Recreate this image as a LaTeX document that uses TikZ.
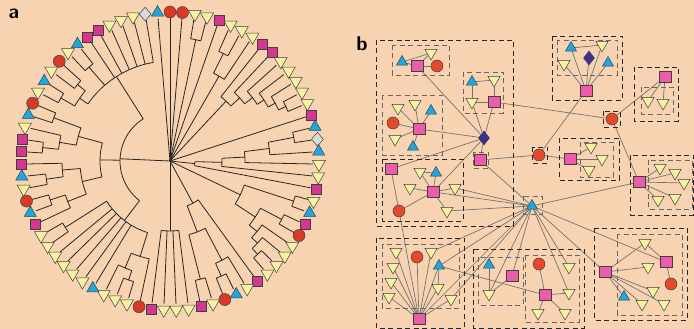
\documentclass[tikz,border=0pt]{standalone}
\usepackage{tikz}
\usetikzlibrary{shapes.geometric}
\usetikzlibrary{positioning}
\definecolor{paper}{HTML}{F8D3B1}
\definecolor{triyellow}{HTML}{F6F1A3}
\definecolor{triblue}{HTML}{1BA8E0}
\definecolor{dotred}{HTML}{D93A27}
\definecolor{nodered}{HTML}{E4492B}
\definecolor{sqmagenta}{HTML}{D6368F}
\definecolor{sqpink}{HTML}{EC5CA8}
\definecolor{dmgray}{HTML}{D9DADC}
\definecolor{dmblue}{HTML}{3C2F8F}
\pgfdeclarelayer{back}
\pgfdeclarelayer{wires}
\pgfsetlayers{back,wires,main}
\tikzstyle{mk}=[draw=black!75, line width=.5pt, inner sep=0pt]
\tikzstyle{mkY}=[mk, regular polygon, regular polygon sides=3, shape border rotate=180, fill=triyellow, minimum size=15pt]
\tikzstyle{mkB}=[mk, regular polygon, regular polygon sides=3, fill=triblue, minimum size=14pt]
\tikzstyle{mkR}=[mk, circle, fill=dotred, minimum size=12pt]
\tikzstyle{mkM}=[mk, rectangle, fill=sqmagenta, minimum size=10pt]
\tikzstyle{mkD}=[mk, diamond, fill=dmgray, minimum width=12pt, minimum height=14pt]
\tikzstyle{nY}=[mkY, minimum size=14pt]
\tikzstyle{nB}=[mkB, minimum size=13pt]
\tikzstyle{nR}=[mk, circle, fill=nodered, minimum size=12pt]
\tikzstyle{nP}=[mk, rectangle, fill=sqpink, minimum size=11.5pt]
\tikzstyle{nD}=[mk, diamond, fill=dmblue, minimum width=11pt, minimum height=14pt]
\tikzstyle{branch}=[line width=.8pt, black!85]
\tikzstyle{wire}=[line width=.7pt, black!55]
\tikzstyle{grp}=[draw=black!85, line width=.8pt, dash pattern=on 5pt off 3.5pt]
\tikzstyle{sub}=[draw=black!60, line width=.8pt, dash pattern=on 5pt off 3.5pt]
\tikzstyle{panel}=[font={\fontsize{20}{20}\selectfont\sffamily\bfseries}, inner sep=0pt]

\begin{document}
\begin{tikzpicture}[x=1pt, y=1pt]

    \useasboundingbox (0,0) rectangle (694,329);
    \begin{pgfonlayer}{back}
        \fill[paper] (0,0) rectangle (694,329);
    \end{pgfonlayer}

    % a: circular tree
    \begin{scope}[shift={(170,168)}]
        \foreach \i/\r in {1/0, 2/0, 3/124, 4/124, 5/0, 6/120, 7/120, 8/98, 9/82, 10/94,
            11/104, 12/112, 13/120, 14/128, 15/128, 16/0, 17/126, 18/126, 19/100, 20/75,
            21/52, 22/25, 23/130, 24/130, 25/126, 26/126, 27/112, 28/120, 29/128, 30/128,
            31/48, 32/112, 33/126, 34/126, 35/122, 36/122, 37/70, 38/70, 39/70, 40/70,
            41/100, 42/126, 43/126, 44/116, 45/75, 46/75, 47/75, 48/75, 49/75, 50/124,
            51/124, 52/110, 53/126, 54/126, 55/125, 56/125, 57/108, 58/128, 59/128, 60/112,
            61/124, 62/124, 63/126, 64/126, 65/120, 66/120, 67/124, 68/124, 69/100, 70/100,
            71/100, 72/100, 73/100, 74/100, 75/0}
            \draw[branch] ({90-4.8*(\i-1)}:143) -- ({90-4.8*(\i-1)}:\r);

        \foreach \p/\q/\r/\s in {3/4/124/0, 6/7/120/98, 6.5/8/98/0,
            14/15/128/120, 13/14.5/120/112, 12/13.75/112/104, 11/12.875/104/94,
            10/11.9375/94/82, 9/10.97/82/0,
            17/18/126/100, 17.5/19/100/75, 18.25/20/75/52, 19.125/21/52/25, 20.06/22/25/0,
            23/24/130/78, 25/26/126/102, 29/30/128/120, 28/29.5/120/112, 27/28.75/112/102,
            25.5/27.875/102/78, 23.5/26.69/78/0,
            33/34/126/112, 32/33.5/112/76, 35/36/122/76, 32.75/35.5/76/48, 31/34.125/48/0,
            37/40/70/0,
            42/43/126/116, 42.5/44/116/100, 41/43.25/100/75, 50/51/124/75, 42.125/50.5/75/50,
            53/54/126/110, 52/53.5/110/90, 55/56/125/108, 55.5/57/108/90, 52.75/56.25/90/70,
            58/59/128/112, 58.5/60/112/95, 61/62/124/95, 59.25/61.5/95/70, 54.5/60.375/70/50,
            63/64/126/110, 65/66/120/110, 63.5/65.5/110/100, 67/68/124/100, 64.5/74/100/50,
            46.3125/69.25/50/0} {
            \draw[branch] ({90-4.8*(\p-1)}:\r) arc[start angle={90-4.8*(\p-1)}, end angle={90-4.8*(\q-1)}, radius=\r];
            \draw[branch] ({90-4.8*((\p+\q)/2-1)}:\r) -- ({90-4.8*((\p+\q)/2-1)}:\s);
        }

        \foreach \t [count=\i] in {R,R,Y,Y,M,Y,Y,Y,M,M,Y,Y,Y,Y,Y,M,B,D,B,Y,Y,M,Y,B,M,R,Y,Y,Y,Y,
            M,Y,B,R,Y,M,Y,Y,Y,M,R,Y,Y,Y,B,Y,Y,Y,Y,Y,Y,M,B,R,Y,B,M,M,M,Y,B,R,Y,B,Y,R,Y,B,M,M,
            Y,Y,Y,D,B}
            \node[mk\t] (leaf\i) at ({90-4.8*(\i-1)}:149) {};
    \end{scope}

    \node[panel] (labela) at (14,315) {a};

    % b: network
    \begin{scope}[shift={(0,329)}, yscale=-1]
        \node[panel] (labelb) at (362,44) {b};

        \draw[grp] (376,40) rectangle (513,226);
        \draw[sub] (392,45) rectangle (449,75);
        \draw[sub] (463,72) rectangle (503,113);
        \draw[sub] (382,95) rectangle (442,155);
        \draw[sub] (473,152) rectangle (488,168);
        \draw[grp] (382,159) rectangle (463,221);
        \draw[grp] (376,238) rectangle (464,328);
        \draw[sub] (382,244) rectangle (459,308);
        \draw[grp] (473,249) rectangle (584,328);
        \draw[sub] (478,257) rectangle (523,305);
        \draw[sub] (525,255) rectangle (579,322);
        \draw[sub] (523,196) rectangle (542,214);
        \draw[grp] (532,147) rectangle (547,163);
        \draw[grp] (559,138) rectangle (619,180);
        \draw[sub] (580,142) rectangle (613,177);
        \draw[grp] (552,36) rectangle (622,100);
        \draw[sub] (557,40) rectangle (617,75);
        \draw[grp] (634,67) rectangle (678,121);
        \draw[sub] (641,87) rectangle (673,114);
        \draw[grp] (603,111) rectangle (620,127);
        \draw[grp] (630,155) rectangle (693,215);
        \draw[sub] (648,160) rectangle (692,209);
        \draw[grp] (594,228) rectangle (687,320);
        \draw[sub] (617,234) rectangle (682,315);

        \node[nB] (g1b) at (402,62) {};
        \node[nP] (g1s) at (417,66) {};
        \node[nY] (g1y) at (431,53) {};
        \node[nR] (g1r) at (437,66) {};

        \node[nB] (g2b) at (472,82) {};
        \node[nY] (g2y) at (494,80) {};
        \node[nY] (g2x) at (472,102) {};
        \node[nP] (g2s) at (494,102) {};

        \node[nY] (g3a) at (398,108) {};
        \node[nY] (g3c) at (415,104) {};
        \node[nB] (g3b) at (431,111) {};
        \node[nR] (g3r) at (393,123) {};
        \node[nP] (g3s) at (419,129) {};
        \node[nY] (g3d) at (395,139) {};
        \node[nB] (g3e) at (413,147) {};

        \node[nD] (dia) at (484,138) {};
        \node[nP] (p1) at (480,160) {};

        \node[nP] (g4p) at (391,169) {};
        \node[nY] (g4a) at (420,172) {};
        \node[nB] (g4b) at (436,173) {};
        \node[nY] (g4c) at (410,188) {};
        \node[nP] (g4s) at (433,192) {};
        \node[nY] (g4d) at (455,188) {};
        \node[nR] (g4r) at (399,211) {};
        \node[nY] (g4e) at (447,211) {};

        \node[nY] (g5a) at (396,252) {};
        \node[nR] (g5r) at (417,257) {};
        \node[nY] (g5b) at (431,252) {};
        \node[nB] (g5t) at (439,266) {};
        \node[nY] (g5c) at (393,267) {};
        \node[nY] (g5d) at (391,282) {};
        \node[nY] (g5e) at (389,297) {};
        \node[nY] (g5f) at (438,288) {};
        \node[nY] (g5g) at (451,299) {};
        \node[nP] (g5s) at (419,319) {};

        \node[nB] (g6b) at (489,265) {};
        \node[nY] (g6y) at (489,294) {};
        \node[nP] (g6s) at (512,276) {};

        \node[nR] (g10r) at (539,264) {};
        \node[nY] (g10a) at (569,267) {};
        \node[nP] (g10s) at (545,295) {};
        \node[nY] (g10b) at (569,293) {};
        \node[nY] (g10c) at (538,313) {};
        \node[nY] (g10d) at (565,313) {};

        \node[nB] (hub) at (532,206) {};
        \node[nR] (rc2) at (539,155) {};
        \node[nR] (rc1) at (612,119) {};

        \node[nP] (g7s) at (570,159) {};
        \node[nY] (g7a) at (591,147) {};
        \node[nY] (g7b) at (602,159) {};
        \node[nY] (g7c) at (589,170) {};

        \node[nB] (g11a) at (571,48) {};
        \node[nY] (g11b) at (602,45) {};
        \node[nD] (g11d) at (589,58) {};
        \node[nB] (g11c) at (608,63) {};
        \node[nY] (g11e) at (564,64) {};
        \node[nP] (g11s) at (586,91) {};

        \node[nP] (g12s) at (665,77) {};
        \node[nY] (g12a) at (648,101) {};
        \node[nY] (g12b) at (663,103) {};

        \node[nP] (g8s) at (639,182) {};
        \node[nY] (g8a) at (660,168) {};
        \node[nY] (g8b) at (675,173) {};
        \node[nY] (g8c) at (684,183) {};
        \node[nY] (g8d) at (658,200) {};
        \node[nY] (g8e) at (675,198) {};

        \node[nP] (g9s) at (605,272) {};
        \node[nY] (g9a) at (645,243) {};
        \node[nY] (g9b) at (648,267) {};
        \node[nP] (g9p) at (666,262) {};
        \node[nR] (g9r) at (671,284) {};
        \node[nY] (g9c) at (653,291) {};
        \node[nB] (g9t) at (624,297) {};
        \node[nY] (g9d) at (642,304) {};
        \node[nY] (g9e) at (664,304) {};
    \end{scope}

    \begin{pgfonlayer}{wires}
        \foreach \u/\v in {g1b/g1y, g1b/g1s, g1s/g1y, g1s/g1r, g1s/dia,
            g2b/g2y, g2b/g2x, g2y/g2s, g2x/g2s, g2s/dia, g2x/dia, g2s/rc1,
            g3s/g3a, g3s/g3c, g3s/g3b, g3s/g3r, g3s/g3d, g3s/g3e, g3s/dia,
            p1/dia, p1/rc2, p1/hub,
            g4p/dia, g4s/dia, g4p/g4r, g4r/g4s, g4s/g4a, g4s/g4b, g4a/g4b, g4s/g4c, g4s/g4d,
            g4s/g4e, g4s/hub, g4d/hub, g4e/hub, g4r/g5s,
            g5s/g5a, g5s/g5r, g5s/g5b, g5s/g5t, g5s/g5c, g5s/g5d, g5s/g5e, g5s/g5f, g5s/g5g,
            g5t/g5f, g5s/hub, g5b/hub, g5t/hub, g5g/hub, g5t/g10s,
            g6b/g6y, g6y/g6s, g6s/hub, g6y/hub,
            g10r/g10s, g10s/g10b, g10s/g10c, g10s/g10d, g10a/hub, g10b/hub,
            rc2/g11s, rc2/g7s, g7s/g7a, g7s/g7b, g7s/g7c,
            g11a/g11b, g11s/g11a, g11s/g11b, g11s/g11d, g11s/g11c, g11s/g11e,
            g12s/g12a, g12s/g12b, g12s/rc1, rc1/g8s,
            g8s/g8a, g8s/g8b, g8s/g8c, g8s/g8d, g8s/g8e, g8s/hub,
            g9s/hub, g9p/hub, g9s/g9a, g9s/g9b, g9s/g9c, g9s/g9t, g9s/g9d, g9s/g9e,
            g9a/g9p, g9p/g9r}
            \draw[wire] (\u.center) -- (\v.center);
    \end{pgfonlayer}

\end{tikzpicture}
\end{document}
